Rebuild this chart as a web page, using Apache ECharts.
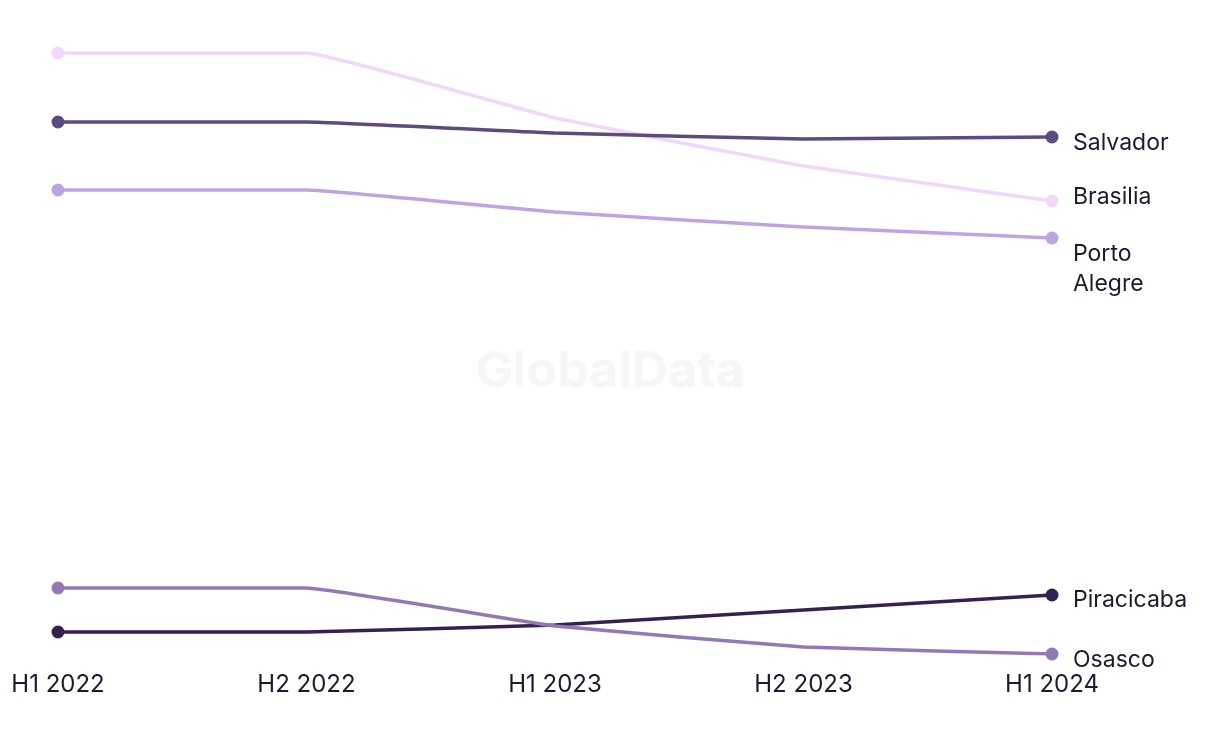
<!DOCTYPE html>
<html><head><meta charset="utf-8">
<script src="https://cdn.jsdelivr.net/npm/echarts@6/dist/echarts.min.js"></script>
<style>html,body{margin:0;padding:0;background:#fff}#c{width:1220px;height:744px}</style>
</head><body><div id="c"></div>
<script>
const categories = ['H1 2022','H2 2022','H1 2023','H2 2023','H1 2024'];
const brasilia = [64.7, 64.7, 58.2, 53.4, 49.9];
const salvador = [57.8, 57.8, 56.7, 56.1, 56.3];
const portoAlegre = [51.0, 51.0, 48.8, 47.3, 46.2];
const piracicaba = [6.8, 6.8, 7.5, 9.0, 10.5];
const osasco = [11.2, 11.2, 7.4, 5.3, 4.6];

const seriesDefs = [
  {name:'Brasilia', data:brasilia, color:'#f2d7fc', offset:[21,-4]},
  {name:'Salvador', data:salvador, color:'#5d4a7f', offset:[21,6]},
  {name:'Porto\nAlegre', data:portoAlegre, color:'#bfa4e2', offset:[21,31]},
  {name:'Piracicaba', data:piracicaba, color:'#35214f', offset:[21,5]},
  {name:'Osasco', data:osasco, color:'#9279b5', offset:[21,6]}
];
const last = categories.length - 1;
const chart = echarts.init(document.getElementById('c'));
chart.setOption({
  animation:false,
  backgroundColor:'#fff',
  textStyle:{fontFamily:'Inter'},
  graphic:[{type:'text', left:'center', top:347, z:0, style:{text:'GlobalData', font:'bold 50px Inter', fill:'#f6f6f6'}}],
  grid:{left:58, right:168, top:53, bottom:90},
  xAxis:{type:'category', data:categories, boundaryGap:false,
    axisLine:{show:false}, axisTick:{show:false}, splitLine:{show:false},
    axisLabel:{color:'#1b1b2f', fontSize:24, margin:19, fontFamily:'Inter'}},
  yAxis:{type:'value', min:4.6, max:64.7, show:false},
  series: seriesDefs.map(s=>({
    type:'line', name:s.name, data:s.data, smooth:0.08, z:3,
    lineStyle:{color:s.color, width:3.5},
    itemStyle:{color:s.color},
    symbol:'circle',
    showAllSymbol:true,
    symbolSize: (v, p) => (p.dataIndex===0 || p.dataIndex===last) ? 13 : 0,
    endLabel:{show:true, formatter:s.name, color:'#1b1b2f', fontSize:23, lineHeight:30, fontFamily:'Inter', offset:s.offset, align:'left', verticalAlign:'middle', distance:0}
  }))
});
</script></body></html>
